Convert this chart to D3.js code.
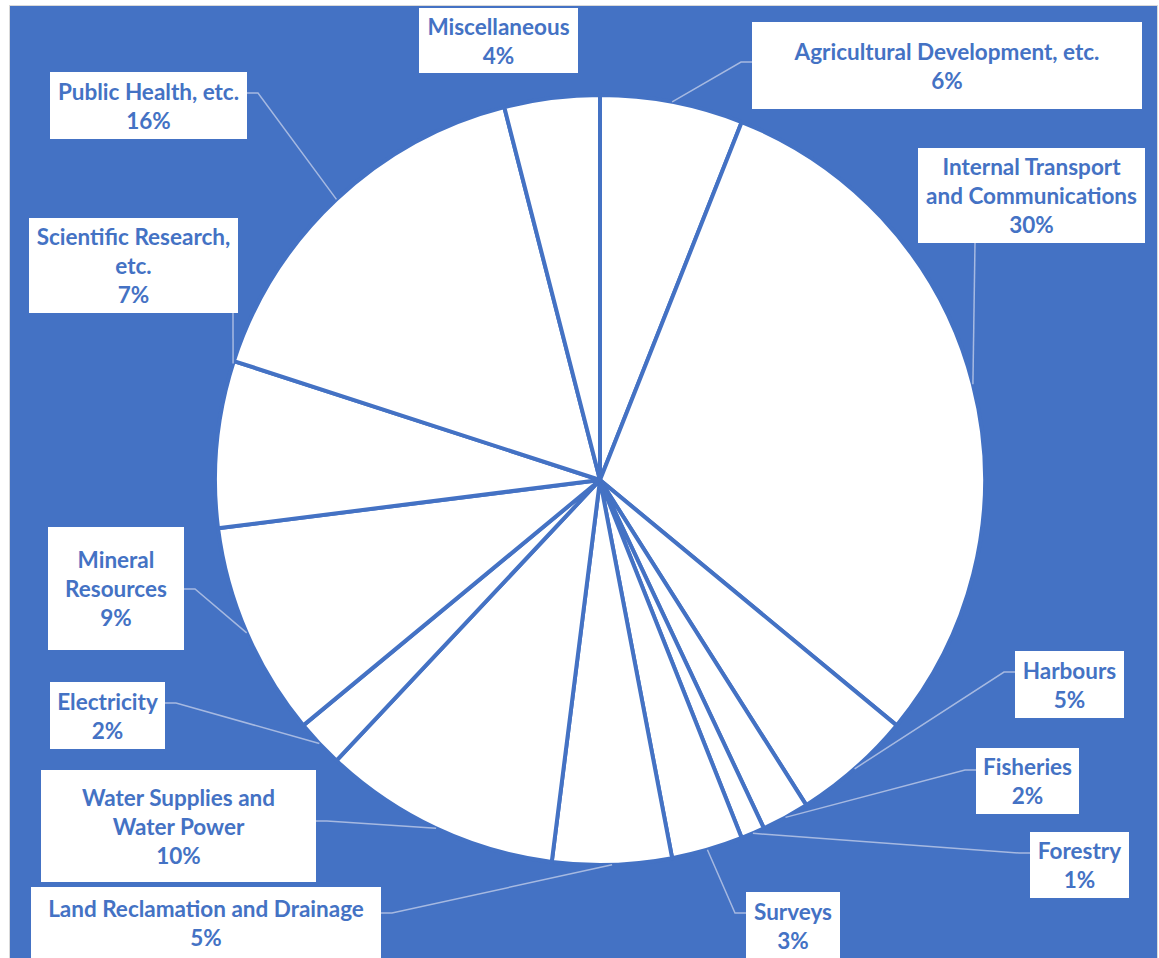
<!DOCTYPE html>
<html>
<head>
<meta charset="utf-8">
<script src="https://cdn.jsdelivr.net/npm/d3@7"></script>
<style>
  html, body { margin: 0; padding: 0; background: #ffffff; }
  svg { display: block; }
  .lbl { font-family: Lato, "Open Sans", sans-serif; font-weight: 700; font-size: 22.5px; fill: #4472C4; }
</style>
</head>
<body>
<svg id="chart" width="1159" height="958"></svg>
<script>
// Allocation by head of expenditure (share of total, %), clockwise from 12 o'clock
const categories = [
  "Agricultural Development, etc.",
  "Internal Transport and Communications",
  "Harbours",
  "Fisheries",
  "Forestry",
  "Surveys",
  "Land Reclamation and Drainage",
  "Water Supplies and Water Power",
  "Electricity",
  "Mineral Resources",
  "Scientific Research, etc.",
  "Public Health, etc.",
  "Miscellaneous"
];
const values = [6, 30, 5, 2, 1, 3, 5, 10, 2, 9, 7, 16, 4];

// How each category name wraps inside its label box
const labelLines = [
  ["Agricultural Development, etc."],
  ["Internal Transport", "and Communications"],
  ["Harbours"],
  ["Fisheries"],
  ["Forestry"],
  ["Surveys"],
  ["Land Reclamation and Drainage"],
  ["Water Supplies and", "Water Power"],
  ["Electricity"],
  ["Mineral", "Resources"],
  ["Scientific Research,", "etc."],
  ["Public Health, etc."],
  ["Miscellaneous"]
];

// Label box placement: [x, y, w, h], side the leader leaves from, attach coordinate, anchor along slice arc
const labelLayout = [
  { box: [752, 22, 390, 87],  side: "left",   at: 62,  f: 0.5 },
  { box: [918, 148, 227, 95], side: "bottom", at: 975, f: 0.5 },
  { box: [1015, 651, 109, 67], side: "left",  at: 672, f: 0.5 },
  { box: [976, 748, 103, 66], side: "left",   at: 770, f: 0.5 },
  { box: [1030, 832, 99, 66], side: "left",   at: 853, f: 0.5 },
  { box: [746, 892, 94, 68],  side: "left",   at: 913, f: 0.5 },
  { box: [31, 887, 350, 71],  side: "right",  at: 913, f: 0.5 },
  { box: [41, 770, 275, 112], side: "right",  at: 821, f: 0.5 },
  { box: [50, 682, 115, 67],  side: "right",  at: 703, f: 0.5 },
  { box: [48, 527, 136, 123], side: "right",  at: 589, f: 0.5 },
  { box: [29, 218, 209, 95],  side: "bottom", at: 233, f: 0.985 },
  { box: [50, 72, 197, 67],   side: "right",  at: 93,  f: 0.5 },
  { box: [419, 8, 159, 65],   side: "none",   at: 0,   f: 0.5 }
];

const W = 1159, H = 958;
const blue = "#4472C4";
const leaderColor = "#A6B9E1";
const cx = 600, cy = 480, R = 385;
const lineGap = 29;

const svg = d3.select("#chart");

// Chart area
svg.append("rect")
  .attr("x", 9.5).attr("y", 5.5)
  .attr("width", 1148).attr("height", 970)
  .attr("fill", blue)
  .attr("stroke", "#D9D9D9").attr("stroke-width", 1);

const data = categories.map((c, i) => ({ name: c, value: values[i], lines: labelLines[i], layout: labelLayout[i] }));

const pie = d3.pie().sort(null).value(d => d.value).startAngle(0).endAngle(2 * Math.PI);
const arcs = pie(data);
const arc = d3.arc().innerRadius(0).outerRadius(R);

const g = svg.append("g").attr("transform", `translate(${cx},${cy})`);

g.selectAll("path.slice")
  .data(arcs)
  .join("path")
  .attr("class", "slice")
  .attr("d", arc)
  .attr("fill", "#ffffff")
  .attr("stroke", blue)
  .attr("stroke-width", 4)
  .attr("stroke-linejoin", "round");

// Leader lines from label box to the slice rim
function anchorPoint(a, f) {
  const ang = a.startAngle + (a.endAngle - a.startAngle) * f;
  return [cx + R * Math.sin(ang), cy - R * Math.cos(ang)];
}

const leaders = svg.append("g");
arcs.forEach(a => {
  const L = a.data.layout;
  if (L.side === "none") return;
  const [x, y, w, h] = L.box;
  const [px, py] = anchorPoint(a, L.f);
  let pts;
  if (L.side === "left") pts = [[x, L.at], [x - 11, L.at], [px, py]];
  else if (L.side === "right") pts = [[x + w, L.at], [x + w + 11, L.at], [px, py]];
  else pts = [[L.at, y + h], [px, py]];
  leaders.append("path")
    .attr("d", d3.line()(pts))
    .attr("fill", "none")
    .attr("stroke", leaderColor)
    .attr("stroke-width", 1.5);
});

// Label boxes with name and percentage
const labels = svg.append("g");
arcs.forEach(a => {
  const d = a.data;
  const [x, y, w, h] = d.layout.box;
  labels.append("rect")
    .attr("x", x).attr("y", y).attr("width", w).attr("height", h)
    .attr("fill", "#ffffff");
  const lines = d.lines.concat([d.value + "%"]);
  const top = y + h / 2 - (lines.length - 1) * lineGap / 2 + 1;
  const t = labels.append("text")
    .attr("class", "lbl")
    .attr("text-anchor", "middle");
  lines.forEach((ln, i) => {
    t.append("tspan")
      .attr("x", x + w / 2)
      .attr("y", top + i * lineGap)
      .attr("dy", "0.35em")
      .text(ln);
  });
});
</script>
</body>
</html>
